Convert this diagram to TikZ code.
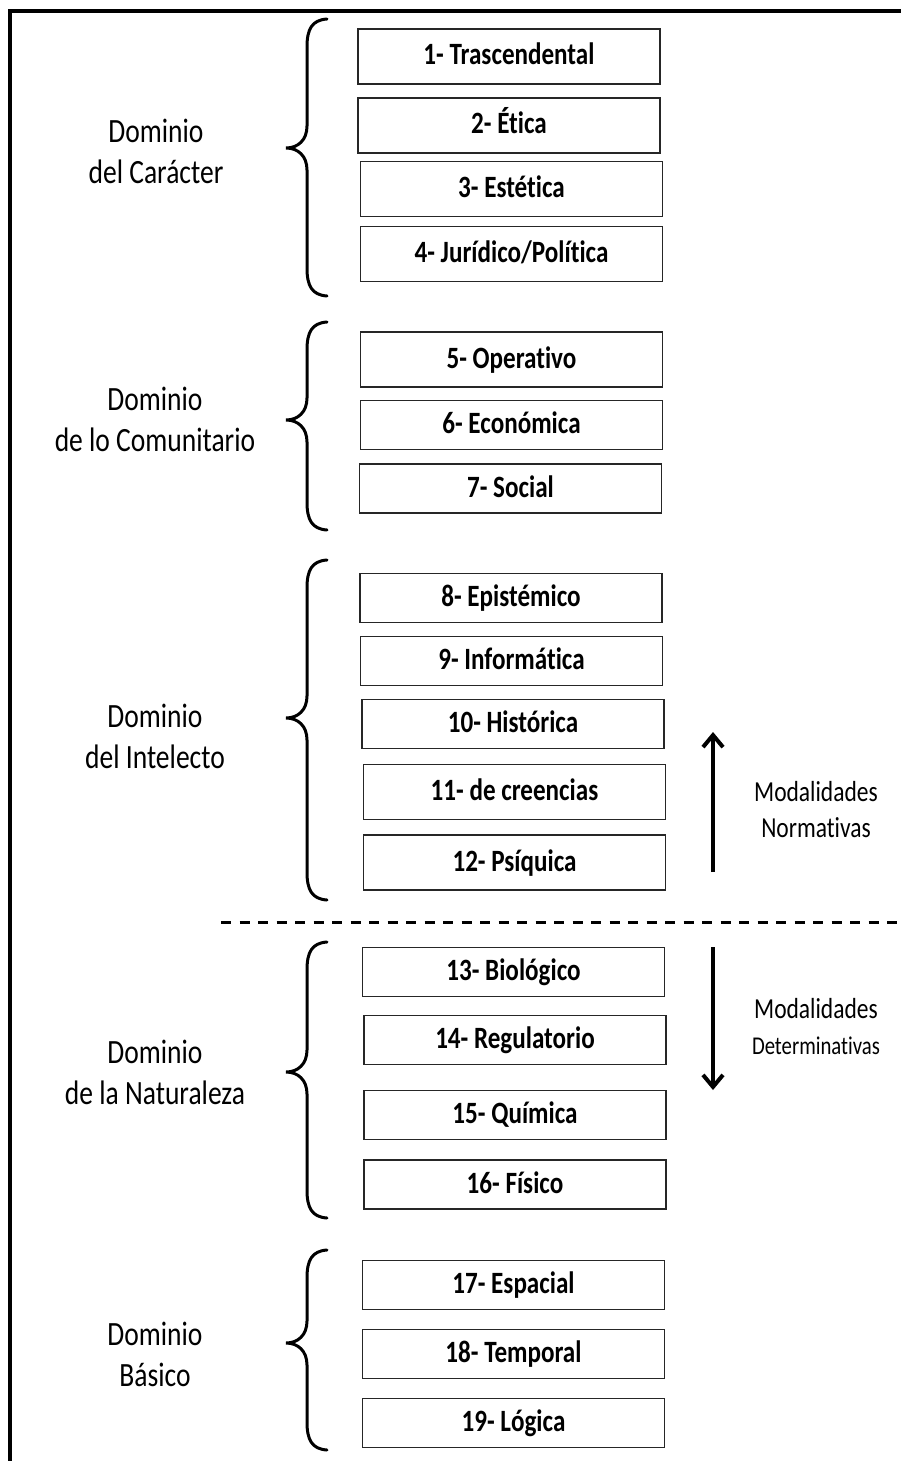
\documentclass[tikz,border=0pt]{standalone}
\usepackage{fontspec}
\setmainfont[FakeStretch=0.81, Ligatures=NoCommon]{Carlito}
\usetikzlibrary{arrows.meta, positioning}

\begin{document}
\begin{tikzpicture}[
    x=1pt, y=-1pt,
    modbox/.style={draw=black!85, line width=1.8pt, minimum width=302pt, minimum height=49pt, inner sep=0pt, text height=17pt, text depth=0pt, font=\fontsize{31}{37}\selectfont\bfseries},
    tallbox/.style={modbox, minimum height=55pt},
    domlabel/.style={align=center, inner sep=0pt, font=\fontsize{34}{41}\selectfont},
    modlabel/.style={align=center, inner sep=0pt, font=\fontsize{29}{36}\selectfont},
    bracestroke/.style={line width=3pt, line cap=round},
    modarrow/.style={-{Straight Barb[length=12pt, width=20pt]}, line width=4pt}
]
    \useasboundingbox (0,0) rectangle (901,1461);
    % Outer frame
    \draw[line width=3.5pt] (901,11) -- (10,11) -- (10,1461);

    % Dominio del Caracter
    \node[domlabel] (dcar) at (156,151) {Dominio\\del Carácter};
    \draw[bracestroke] (327,19) .. controls (312,20) and (307,29) .. (307,47) -- (307,126) .. controls (307,140) and (298,148) .. (286,148) .. controls (298,148) and (307,156) .. (307,170) -- (307,268) .. controls (307,286) and (312,295) .. (327,296);
    \node[tallbox] (m1) at (509,56.5) {1- Trascendental};
    \node[tallbox] (m2) at (509,125.5) {2- Ética};
    \node[tallbox] (m3) at (511.5,189) {3- Estética};
    \node[tallbox] (m4) at (511.5,254) {4- Jurídico/Política};

    % Dominio de lo Comunitario
    \node[domlabel] (dcom) at (155,419) {Dominio\\de lo Comunitario};
    \draw[bracestroke] (327,322) .. controls (312,323) and (307,332) .. (307,350) -- (307,398) .. controls (307,412) and (298,420) .. (286,420) .. controls (298,420) and (307,428) .. (307,442) -- (307,502) .. controls (307,520) and (312,529) .. (327,530);
    \node[tallbox] (m5) at (511.5,359.5) {5- Operativo};
    \node[modbox] (m6) at (511.5,425) {6- Económica};
    \node[modbox] (m7) at (510.5,488.5) {7- Social};

    % Dominio del Intelecto
    \node[domlabel] (dint) at (155,736) {Dominio\\del Intelecto};
    \draw[bracestroke] (327,560) .. controls (312,561) and (307,570) .. (307,588) -- (307,696) .. controls (307,710) and (298,718) .. (286,718) .. controls (298,718) and (307,726) .. (307,740) -- (307,872) .. controls (307,890) and (312,899) .. (327,900);
    \node[modbox] (m8) at (511,598) {8- Epistémico};
    \node[modbox] (m9) at (511.5,661) {9- Informática};
    \node[modbox] (m10) at (513,724) {10- Histórica};
    \node[tallbox] (m11) at (514.5,792) {11- de creencias};
    \node[tallbox] (m12) at (514.5,862.5) {12- Psíquica};

    % Normativas / Determinativas
    \draw[line width=3pt, dash pattern=on 10pt off 8.5pt] (221,922) -- (901,922);
    \coordinate (nup0) at (713,872);
    \coordinate (nup1) at (713,732);
    \draw[modarrow] (nup0) -- (nup1);
    \node[modlabel] (norm) at (816,810) {Modalidades\\Normativas};
    \coordinate (ndn0) at (713,947);
    \coordinate (ndn1) at (713,1090);
    \draw[modarrow] (ndn0) -- (ndn1);
    \node[modlabel] (deter) at (816,1027) {Modalidades\\{\fontsize{25.6}{33}\selectfont Determinativas}};

    % Dominio de la Naturaleza
    \node[domlabel] (dnat) at (155,1072) {Dominio\\de la Naturaleza};
    \draw[bracestroke] (327,942) .. controls (312,943) and (307,952) .. (307,970) -- (307,1050) .. controls (307,1064) and (298,1072) .. (286,1072) .. controls (298,1072) and (307,1080) .. (307,1094) -- (307,1190) .. controls (307,1208) and (312,1217) .. (327,1218);
    \node[modbox] (m13) at (513.5,972) {13- Biológico};
    \node[modbox] (m14) at (515,1040) {14- Regulatorio};
    \node[modbox] (m15) at (515,1115) {15- Química};
    \node[modbox] (m16) at (515,1184.5) {16- Físico};

    % Dominio Basico
    \node[domlabel] (dbas) at (155,1354) {Dominio\\Básico};
    \draw[bracestroke] (327,1250) .. controls (312,1251) and (307,1260) .. (307,1278) -- (307,1321) .. controls (307,1335) and (298,1343) .. (286,1343) .. controls (298,1343) and (307,1351) .. (307,1365) -- (307,1422) .. controls (307,1440) and (312,1449) .. (327,1450);
    \node[modbox] (m17) at (513.5,1285) {17- Espacial};
    \node[modbox] (m18) at (513.5,1354) {18- Temporal};
    \node[modbox] (m19) at (513.5,1423) {19- Lógica};
\end{tikzpicture}
\end{document}
